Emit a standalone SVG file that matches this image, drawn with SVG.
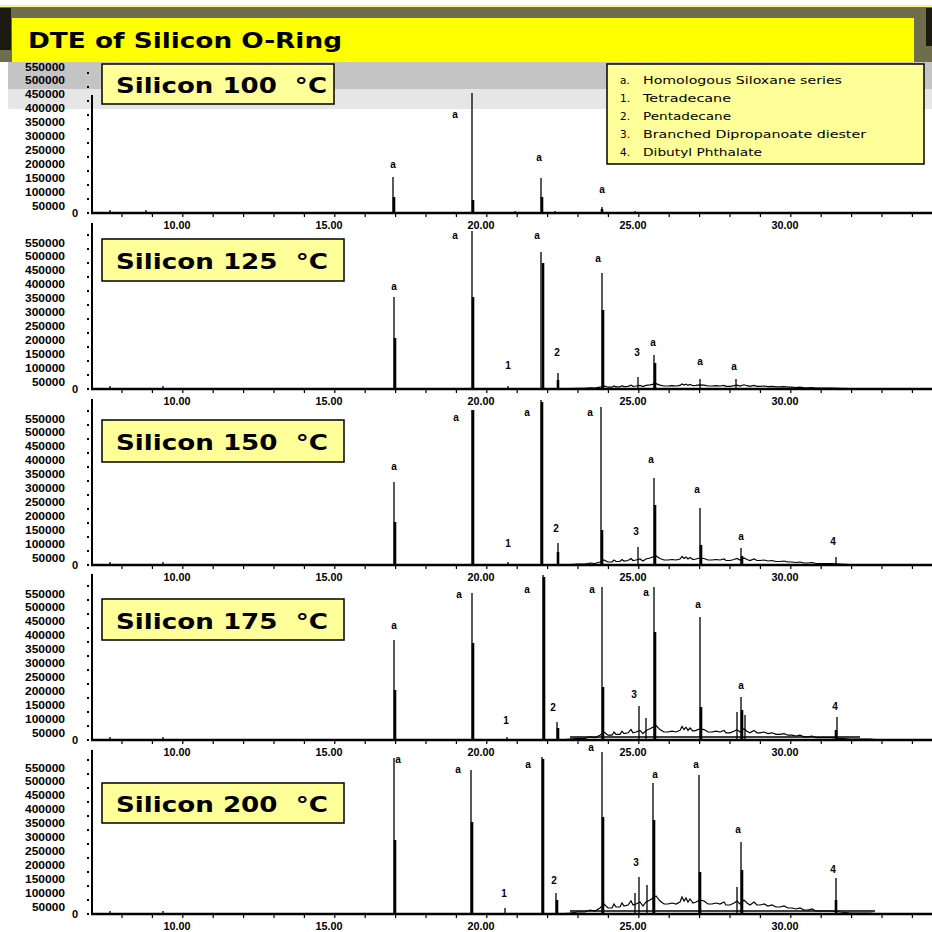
<svg xmlns="http://www.w3.org/2000/svg" xmlns:xlink="http://www.w3.org/1999/xlink" width="932" height="932" viewBox="0 0 932 932">
<style>
.ax{stroke:#000;stroke-width:2.5;fill:none}
.yx{stroke:#000;stroke-width:2;fill:none}
.tk{stroke:#000;stroke-width:1.2;fill:none}
.pk{stroke:#000;stroke-width:1.3;fill:none}
.th{stroke:#000;stroke-width:2.6;fill:none}
.nz{stroke:#000;stroke-width:1.2;fill:none;vector-effect:non-scaling-stroke}
.yl{font-family:"Liberation Sans",Arial,sans-serif;font-weight:bold;font-size:11px;fill:#000}
.xl{font-family:"Liberation Sans",Arial,sans-serif;font-weight:bold;font-size:10px;fill:#000}
.pl{font-family:"Liberation Sans",Arial,sans-serif;font-weight:bold;font-size:10px;fill:#000}
.box{fill:#ffff99;stroke:#000;stroke-width:1.5}
.bt{font-family:"DejaVu Sans","Liberation Sans",sans-serif;font-weight:bold;font-size:22px;fill:#000;white-space:pre}
.lg{font-family:"DejaVu Sans","Liberation Sans",sans-serif;font-size:10.5px;fill:#000}
</style>
<defs>
<g id="axes">
<g fill="#000">
<rect x="87" y="-1" width="2" height="2"/><rect x="87" y="-15" width="2" height="2"/><rect x="87" y="-29" width="2" height="2"/><rect x="87" y="-43" width="2" height="2"/><rect x="87" y="-57" width="2" height="2"/><rect x="87" y="-71" width="2" height="2"/><rect x="87" y="-85" width="2" height="2"/><rect x="87" y="-99" width="2" height="2"/><rect x="87" y="-113" width="2" height="2"/><rect x="87" y="-127" width="2" height="2"/><rect x="87" y="-141" width="2" height="2"/><rect x="87" y="-155" width="2" height="2"/>
</g>
<text class="yl" x="78" y="4" text-anchor="end">0</text>
<text class="yl" x="65" y="-3.5" text-anchor="end" textLength="33" lengthAdjust="spacingAndGlyphs">50000</text>
<text class="yl" x="65" y="-17.4" text-anchor="end" textLength="40" lengthAdjust="spacingAndGlyphs">100000</text>
<text class="yl" x="65" y="-31.3" text-anchor="end" textLength="40" lengthAdjust="spacingAndGlyphs">150000</text>
<text class="yl" x="65" y="-45.2" text-anchor="end" textLength="40" lengthAdjust="spacingAndGlyphs">200000</text>
<text class="yl" x="65" y="-59.1" text-anchor="end" textLength="40" lengthAdjust="spacingAndGlyphs">250000</text>
<text class="yl" x="65" y="-73" text-anchor="end" textLength="40" lengthAdjust="spacingAndGlyphs">300000</text>
<text class="yl" x="65" y="-86.9" text-anchor="end" textLength="40" lengthAdjust="spacingAndGlyphs">350000</text>
<text class="yl" x="65" y="-100.8" text-anchor="end" textLength="40" lengthAdjust="spacingAndGlyphs">400000</text>
<text class="yl" x="65" y="-114.7" text-anchor="end" textLength="40" lengthAdjust="spacingAndGlyphs">450000</text>
<text class="yl" x="65" y="-128.6" text-anchor="end" textLength="40" lengthAdjust="spacingAndGlyphs">500000</text>
<text class="yl" x="65" y="-142.5" text-anchor="end" textLength="40" lengthAdjust="spacingAndGlyphs">550000</text>
<line class="ax" x1="91" y1="0" x2="932" y2="0"/>
<path class="tk" d="M122,0v4M152.4,0v4M182.8,0v4M213.2,0v4M243.6,0v4M274,0v4M304.4,0v4M334.8,0v4M365.2,0v4M395.6,0v4M426,0v4M456.4,0v4M486.8,0v4M517.2,0v4M547.6,0v4M578,0v4M608.4,0v4M638.8,0v4M669.2,0v4M699.6,0v4M730,0v4M760.4,0v4M790.8,0v4M821.2,0v4M851.6,0v4M882,0v4M912.4,0v4"/>
<text class="xl" x="177" y="16" text-anchor="middle" textLength="27" lengthAdjust="spacingAndGlyphs">10.00</text>
<text class="xl" x="329" y="16" text-anchor="middle" textLength="27" lengthAdjust="spacingAndGlyphs">15.00</text>
<text class="xl" x="481" y="16" text-anchor="middle" textLength="27" lengthAdjust="spacingAndGlyphs">20.00</text>
<text class="xl" x="633" y="16" text-anchor="middle" textLength="27" lengthAdjust="spacingAndGlyphs">25.00</text>
<text class="xl" x="785" y="16" text-anchor="middle" textLength="27" lengthAdjust="spacingAndGlyphs">30.00</text>
</g>
<path id="noise" class="nz" d="M560,0 L570,-1 L578,-2 L585,-2 L590,-4 L595,-3 L600,-6 L604,-10 L608,-6 L612,-6 L614,-10 L616,-7 L620,-7 L622,-11 L624,-8 L628,-9 L631,-13 L633,-9 L636,-10 L640,-12 L643,-8 L646,-12 L650,-14 L656,-18 L660,-13 L664,-10 L668,-10 L672,-11 L676,-10 L680,-12 L682,-17 L684,-13 L686,-16 L688,-12 L690,-15 L693,-11 L696,-12 L700,-14 L704,-13 L708,-10 L712,-10 L716,-11 L720,-10 L724,-12 L726,-9 L730,-9 L734,-11 L737,-13 L740,-10 L744,-14 L747,-11 L750,-9 L754,-12 L757,-9 L760,-9 L764,-10 L768,-8 L772,-9 L776,-7 L780,-7 L784,-8 L788,-6 L792,-6 L796,-5 L800,-6 L804,-4 L808,-4 L812,-5 L816,-3 L820,-3 L826,-3 L832,-3 L840,-2 L850,-1 L860,-1 L870,-1 L880,0"/>
</defs>

<rect x="0" y="0" width="932" height="932" fill="#fff"/>

<!-- gray band behind panel 1 top -->
<rect x="8" y="62" width="924" height="27" fill="#c4c4c4"/>
<rect x="8" y="89" width="924" height="20" fill="#e6e6e6"/>

<g id="panel-100">
<line class="yx" x1="92" y1="95" x2="92" y2="213"/>
<use xlink:href="#axes" href="#axes" transform="translate(0,213)"/>
<path class="pk" d="M110,213V210M146,213V210M393,213V177M472,213V93M541,213V178M602,213V207M555,213V211M515,213V211M635,213V211"/>
<path class="th" d="M394,213V197M473,213V200M542,213V197M602,213V209"/>
<g class="pl" text-anchor="middle">
<text x="393" y="168">a</text><text x="455" y="118">a</text><text x="539" y="161">a</text><text x="602" y="193">a</text>
</g>
<rect class="box" x="102" y="64" width="232" height="40"/>
<text class="bt" x="116" y="93" textLength="211" lengthAdjust="spacingAndGlyphs">Silicon 100  °C</text>
</g>

<g id="panel-125">
<line class="yx" x1="92" y1="223" x2="92" y2="389"/>
<use xlink:href="#axes" href="#axes" transform="translate(0,389)"/>
<use xlink:href="#noise" href="#noise" transform="translate(0,389) scale(1,0.3)"/>
<path class="pk" d="M110,389V386M163,389V386M394,389V297M472,389V231M508,389V386M541,389V252M558,389V373M602,389V273M638,389V377M654,389V355M700,389V379M736,389V379"/>
<path class="th" d="M395,389V338M473,389V297M543,389V263M558,389V380M603,389V310M655,389V363"/>
<g class="pl" text-anchor="middle">
<text x="394" y="290">a</text><text x="455" y="239">a</text><text x="508" y="369">1</text><text x="537" y="239">a</text><text x="557" y="356">2</text><text x="598" y="262">a</text><text x="637" y="356">3</text><text x="653" y="346">a</text><text x="700" y="365">a</text><text x="734" y="370">a</text>
</g>
<rect class="box" x="102" y="239" width="242" height="42"/>
<text class="bt" x="116" y="269" textLength="212" lengthAdjust="spacingAndGlyphs">Silicon 125  °C</text>
</g>

<g id="panel-150">
<line class="yx" x1="92" y1="399" x2="92" y2="565"/>
<use xlink:href="#axes" href="#axes" transform="translate(0,565)"/>
<use xlink:href="#noise" href="#noise" transform="translate(0,565) scale(1,0.5)"/>
<path class="pk" d="M110,565V562M163,565V562M394,565V482M472,565V410M508,565V562M541,565V400M558,565V543M601,565V407M638,565V547M654,565V478M700,565V508M741,565V548M836,565V557"/>
<path class="th" d="M395,565V522M473,565V410M542,565V402M558,565V552M602,565V530M655,565V505M701,565V545M742,565V556"/>
<g class="pl" text-anchor="middle">
<text x="394" y="470">a</text><text x="456" y="421">a</text><text x="508" y="547">1</text><text x="527" y="416">a</text><text x="556" y="532">2</text><text x="590" y="416">a</text><text x="636" y="535">3</text><text x="651" y="463">a</text><text x="697" y="493">a</text><text x="741" y="540">a</text><text x="833" y="545">4</text>
</g>
<rect class="box" x="102" y="420" width="242" height="42"/>
<text class="bt" x="116" y="450" textLength="212" lengthAdjust="spacingAndGlyphs">Silicon 150  °C</text>
</g>

<g id="panel-175">
<line class="yx" x1="92" y1="574" x2="92" y2="740"/>
<use xlink:href="#axes" href="#axes" transform="translate(0,740)"/>
<use xlink:href="#noise" href="#noise" transform="translate(0,740) scale(1,0.8)"/>
<path class="pk" d="M570,737H860M110,740V737M163,740V737M394,740V640M472,740V593M507,740V737M543,740V575M557,740V722M602,740V587M639,740V706M646,740V718M654,740V587M700,740V617M737,740V712M741,740V697M745,740V715M837,740V717"/>
<path class="th" d="M395,740V690M473,740V643M544,740V577M558,740V728M603,740V687M655,740V632M701,740V707M742,740V710M836,740V730"/>
<g class="pl" text-anchor="middle">
<text x="394" y="629">a</text><text x="459" y="598">a</text><text x="506" y="724">1</text><text x="527" y="593">a</text><text x="553" y="711">2</text><text x="592" y="593">a</text><text x="634" y="698">3</text><text x="646" y="596">a</text><text x="698" y="608">a</text><text x="741" y="689">a</text><text x="835" y="710">4</text>
</g>
<rect class="box" x="102" y="599" width="242" height="41"/>
<text class="bt" x="116" y="629" textLength="212" lengthAdjust="spacingAndGlyphs">Silicon 175  °C</text>
</g>

<g id="panel-200">
<line class="yx" x1="92" y1="750" x2="92" y2="914"/>
<use xlink:href="#axes" href="#axes" transform="translate(0,914)"/>
<use xlink:href="#noise" href="#noise" transform="translate(0,914)"/>
<path class="pk" d="M570,911H875M110,914V911M163,914V911M394,914V758M471,914V770M505,914V908M542,914V757M556,914V893M602,914V752M635,914V893M639,914V877M647,914V885M653,914V783M699,914V775M737,914V887M741,914V842M836,914V878"/>
<path class="th" d="M395,914V840M472,914V822M543,914V759M557,914V900M603,914V817M654,914V820M700,914V872M742,914V870M836,914V900"/>
<g class="pl" text-anchor="middle">
<text x="398" y="763">a</text><text x="458" y="773">a</text><text x="504" y="897">1</text><text x="528" y="768">a</text><text x="554" y="884">2</text><text x="591" y="751">a</text><text x="636" y="866">3</text><text x="655" y="778">a</text><text x="696" y="768">a</text><text x="738" y="833">a</text><text x="833" y="873">4</text>
</g>
<rect class="box" x="102" y="783" width="242" height="40"/>
<text class="bt" x="116" y="812" textLength="212" lengthAdjust="spacingAndGlyphs">Silicon 200  °C</text>
</g>

<g id="legend">
<rect class="box" x="607" y="64" width="317" height="100"/>
<g class="lg">
<text x="620" y="84">a.</text><text x="643" y="84" textLength="199" lengthAdjust="spacingAndGlyphs">Homologous Siloxane series</text>
<text x="620" y="102">1.</text><text x="643" y="102" textLength="88" lengthAdjust="spacingAndGlyphs">Tetradecane</text>
<text x="620" y="120">2.</text><text x="643" y="120" textLength="88" lengthAdjust="spacingAndGlyphs">Pentadecane</text>
<text x="620" y="138">3.</text><text x="643" y="138" textLength="223" lengthAdjust="spacingAndGlyphs">Branched Dipropanoate diester</text>
<text x="620" y="156">4.</text><text x="643" y="156" textLength="119" lengthAdjust="spacingAndGlyphs">Dibutyl Phthalate</text>
</g>
</g>

<g id="title">
<rect x="0" y="5" width="932" height="1.5" fill="#ffff00"/>
<rect x="0" y="7" width="932" height="55" fill="#6e6e4c"/>
<rect x="0" y="8" width="11" height="42" fill="#1a1a10"/>
<rect x="926" y="8" width="6" height="38" fill="#1a1a10"/>
<rect x="12" y="18" width="902" height="44" fill="#ffff00"/>
<text x="28" y="48" font-family="DejaVu Sans, Liberation Sans, sans-serif" font-weight="bold" font-size="22" textLength="314" lengthAdjust="spacingAndGlyphs">DTE of Silicon O-Ring</text>
</g>
</svg>
